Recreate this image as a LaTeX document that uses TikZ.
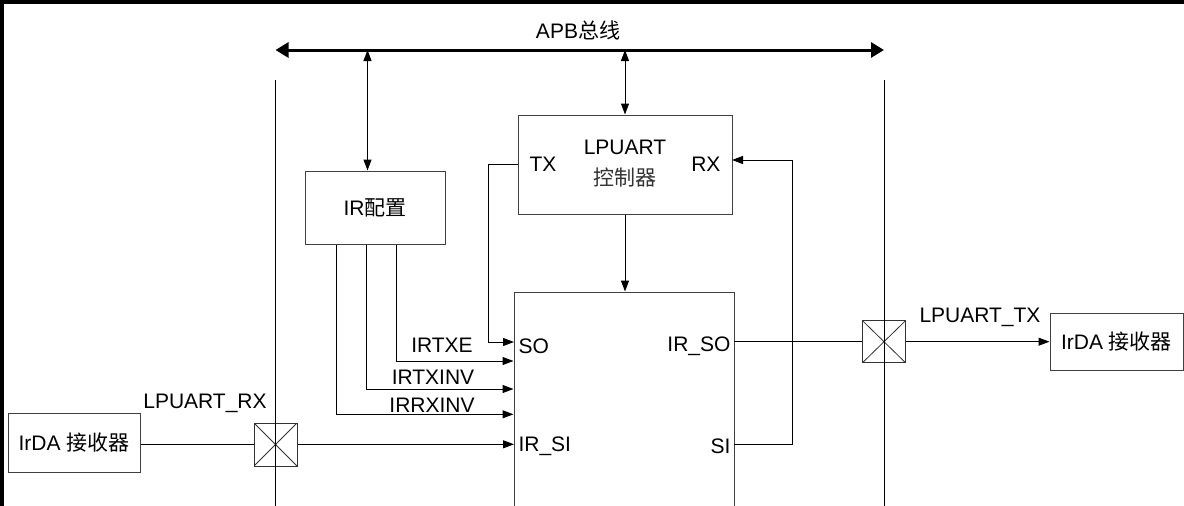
\documentclass[tikz,border=0pt]{standalone}
\usepackage{fontspec}
\setmainfont{Liberation Sans}
\newfontfamily\cjk{Noto Sans CJK SC}
\usetikzlibrary{arrows.meta}
\begin{document}
\begin{tikzpicture}[x=1pt,y=-1pt,
  line width=1pt,
  font=\fontsize{21}{25}\selectfont,
  blk/.style={draw=black!75,rectangle,inner sep=0pt,fill=white},
  crossbox/.style={draw=black!80,rectangle,inner sep=0pt,minimum width=43pt,minimum height=43pt,fill=white,
    path picture={\draw[line width=0.8pt,black!80] (path picture bounding box.north west) -- (path picture bounding box.south east)
      (path picture bounding box.north east) -- (path picture bounding box.south west);}},
  arr/.style={-{Triangle[length=11pt,width=8pt]}},
  darr/.style={{Triangle[length=11pt,width=8pt]}-{Triangle[length=11pt,width=8pt]}},
  lbl/.style={inner sep=0pt}]
\useasboundingbox (0,0) rectangle (1184,506);
% frame
\draw[line width=3.5pt] (1186,2) -- (2,2) -- (2,508);
% vertical separators
\coordinate (vLt) at (275.5,80); \coordinate (vLb) at (275.5,510);
\coordinate (vRt) at (884,80); \coordinate (vRb) at (884,510);
\draw (vLt) -- (vLb);
\draw (vRt) -- (vRb);
% bus
\coordinate (busL) at (275.5,50); \coordinate (busR) at (884,50);
\draw[line width=3pt,{Triangle[length=13pt,width=15pt]}-{Triangle[length=13pt,width=15pt]}] (busL) -- (busR);
\node[lbl] (apb) at (578,30) {APB{\cjk 总线}};
% boxes
\node[blk,minimum width=140pt,minimum height=73pt] (ir) at (375,207.5) {IR{\cjk 配置}};
\node[blk,minimum width=214pt,minimum height=99pt] (lp) at (625,164.5) {};
\node[lbl] (lpt) at (625,147) {LPUART};
\node[lbl] (lpc) at (625,178) {\cjk\color{black!80}控制器};
\node[lbl,anchor=west] (tx) at (529,164) {TX};
\node[lbl,anchor=east] (rx) at (721,164) {RX};
\node[blk,minimum width=220pt,minimum height=218pt] (core) at (624,401) {};
\node[blk,minimum width=132pt,minimum height=59pt] (rxb) at (74,442.5) {IrDA {\cjk 接收器}};
\node[blk,minimum width=133pt,minimum height=57pt] (txb) at (1116.5,341.5) {IrDA {\cjk 接收器}};
\node[crossbox] (xl) at (275.5,444.5) {};
\node[crossbox,minimum height=42pt] (xr) at (884,341.7) {};
\draw (xl.north) -- (xl.south);
\draw (xr.north) -- (xr.south);
% core labels
\node[lbl,anchor=west] (so) at (518,346) {SO};
\node[lbl,anchor=east] (irso) at (731,346) {IR\_SO};
\node[lbl,anchor=west] (irsi) at (518,446) {IR\_SI};
\node[lbl,anchor=east] (si) at (731,446) {SI};
% bus links
\coordinate (b1) at (367.5,50);
\coordinate (b2) at (625,50);
\draw[darr] (b1) -- (b1 |- ir.north);
\draw[darr] (b2) -- (lp.north);
\draw[arr] (lp.south) -- (core.north -| lp.south);
% TX -> SO
\coordinate (soin) at (514,342);
\draw[arr] (lp.west |- tx) -- (488.5,164) |- (soin);
% RX <- SI
\coordinate (siout) at (734,444.3);
\coordinate (rxin) at (732,160);
\draw[arr] (siout) -- (792.5,444.3) |- (rxin);
% IR config lines
\coordinate (c1) at (396,361);
\coordinate (c2) at (366.6,389);
\coordinate (c3) at (336.8,414.3);
\draw[arr] (c1 |- ir.south) |- (core.west |- c1);
\draw[arr] (c2 |- ir.south) |- (core.west |- c2);
\draw[arr] (c3 |- ir.south) |- (core.west |- c3);
\node[lbl] (l1) at (442,345) {IRTXE};
\node[lbl] (l2) at (433,377) {IRTXINV};
\node[lbl] (l3) at (432,405) {IRRXINV};
% RX path
\coordinate (sin) at (514,444.3);
\draw (rxb.east |- sin) -- (xl.west |- sin);
\draw[arr] (xl.east |- sin) -- (sin);
\node[lbl] (lrx) at (205,403) {LPUART\_RX};
% TX path
\coordinate (soo) at (734,341.7);
\draw (soo) -- (xr.west |- soo);
\draw[arr] (xr.east |- soo) -- (txb.west |- soo);
\node[lbl] (ltx) at (980,317) {LPUART\_TX};
\end{tikzpicture}
\end{document}
